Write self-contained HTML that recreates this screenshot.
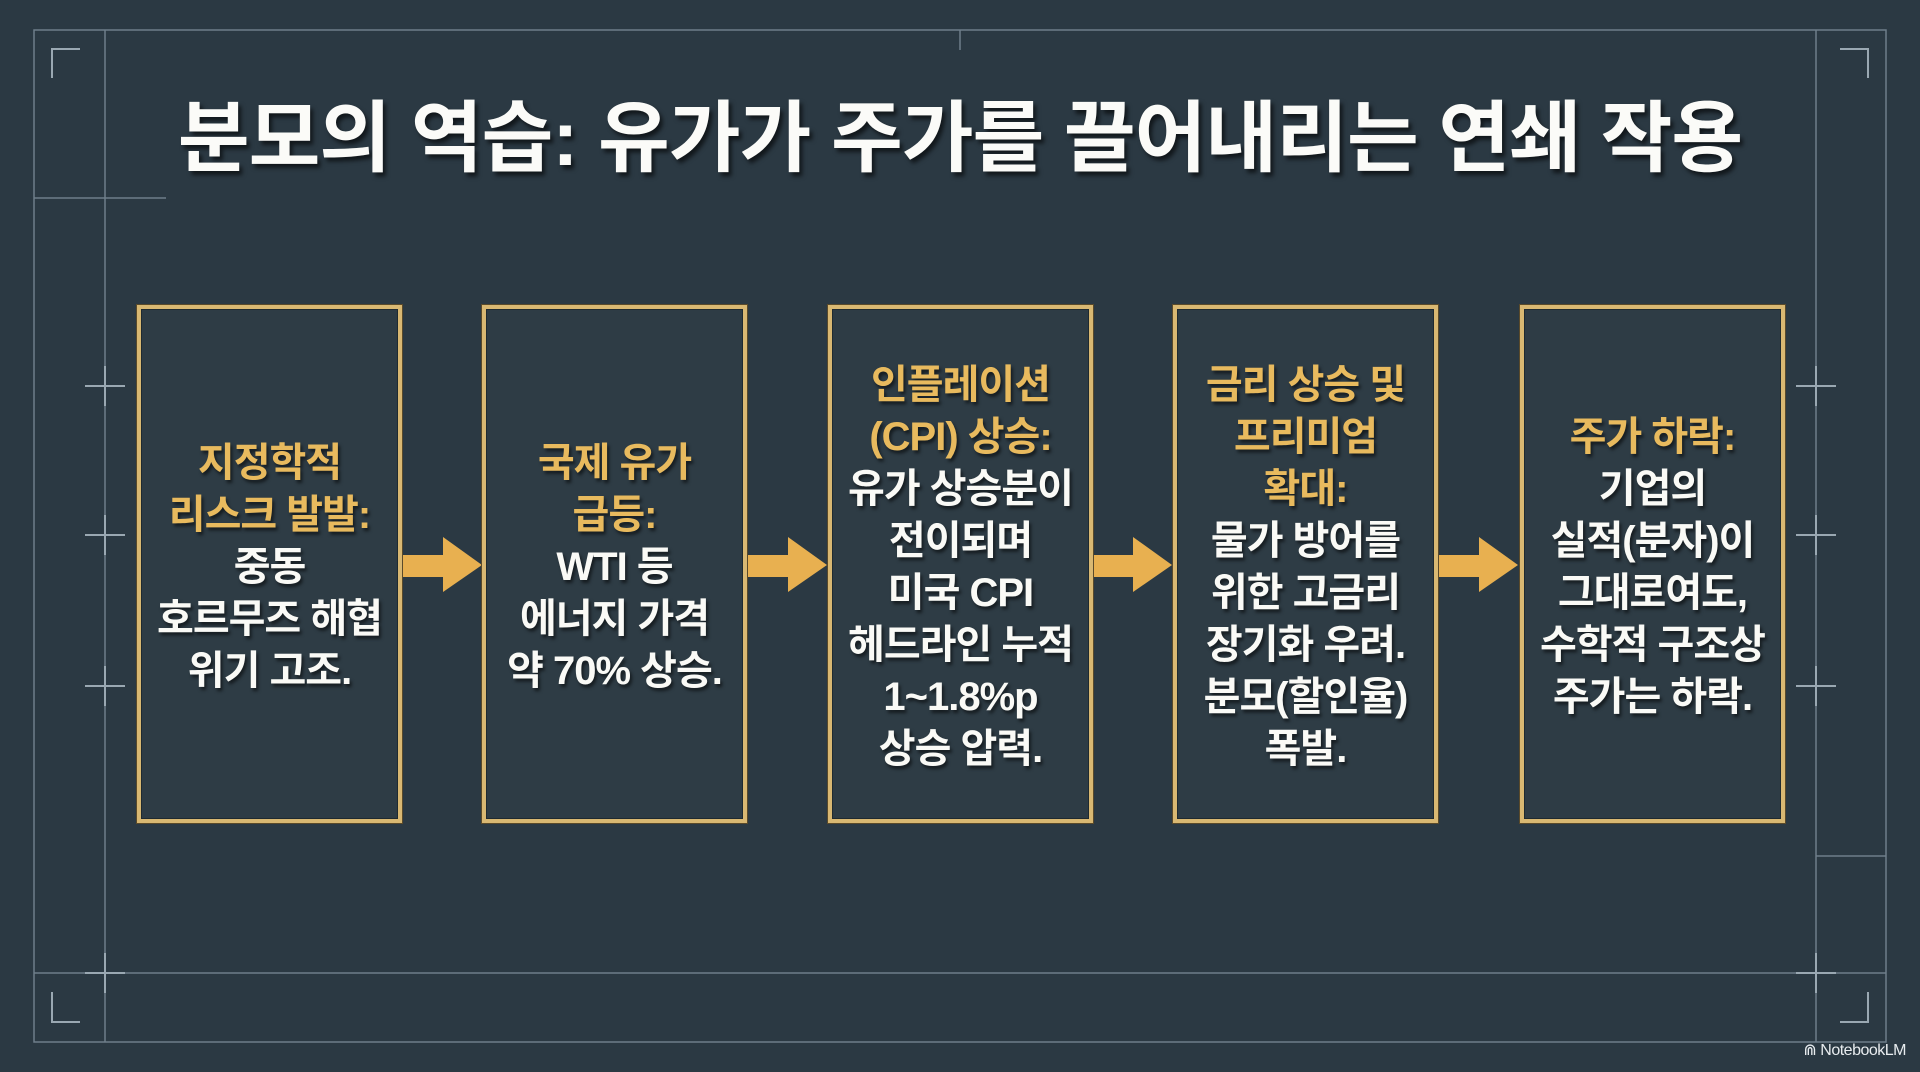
<!DOCTYPE html>
<html><head><meta charset="utf-8"><style>
html,body{margin:0;padding:0;}
body{width:1920px;height:1072px;background:#2b3943;position:relative;overflow:hidden;font-family:"Liberation Sans","Noto Sans CJK KR",sans-serif;}
svg{position:absolute;left:0;top:0;}
.title{position:absolute;left:0;width:1920px;top:88px;text-align:center;color:#fbfbf8;font-weight:700;font-size:78px;line-height:100px;letter-spacing:-1px;text-shadow:3px 4px 4px rgba(0,0,0,.6);white-space:nowrap;}
.box{position:absolute;top:305px;width:257px;height:510px;border:4px solid #d9b872;background:#2e3c45;box-shadow:0 0 0 1px #5a4a2a,inset 0 0 0 1px #1f2a30;display:flex;align-items:center;justify-content:center;text-align:center;}
.box div{font-weight:700;font-size:40px;line-height:52px;color:#fafaf6;letter-spacing:-1px;text-shadow:2px 3px 3px rgba(0,0,0,.55);margin-top:6px;}
.g{color:#e8ba5e;}
.wm{position:absolute;right:14px;top:1040px;color:#e8ecef;font-size:16px;letter-spacing:-0.5px;}
</style></head><body>
<svg width="1920" height="1072">
<g stroke="#6e7e8a" stroke-width="1.5" fill="none">
<rect x="34" y="30" width="1852" height="1012"/>
<line x1="105" y1="30" x2="105" y2="1042"/>
<line x1="1816" y1="30" x2="1816" y2="1042"/>
<line x1="34" y1="973" x2="1886" y2="973"/>
<line x1="34" y1="198" x2="166" y2="198"/>
<line x1="1816" y1="856" x2="1886" y2="856"/>
<line x1="960" y1="30" x2="960" y2="50"/>
</g>
<g stroke="#9aa8b2" stroke-width="2" fill="none">
<path d="M52 78 V49 H80"/>
<path d="M1868 78 V49 H1840"/>
<path d="M52 992 V1022 H80"/>
<path d="M1868 992 V1022 H1840"/>
<path d="M85 386 H125 M105 366 V406"/>
<path d="M85 535 H125 M105 515 V555"/>
<path d="M85 686 H125 M105 666 V706"/>
<path d="M85 973 H125 M105 953 V993"/>
<path d="M1796 386 H1836 M1816 366 V406"/>
<path d="M1796 535 H1836 M1816 515 V555"/>
<path d="M1796 686 H1836 M1816 666 V706"/>
<path d="M1796 973 H1836 M1816 953 V993"/>
</g>
<g fill="#e8b050">
<path d="M402 555 H443 V537 L482 565 L443 592 V577 H402 Z"/>
<path d="M747 555 H788 V537 L827 565 L788 592 V577 H747 Z"/>
<path d="M1092 555 H1133 V537 L1172 565 L1133 592 V577 H1092 Z"/>
<path d="M1438 555 H1479 V537 L1518 565 L1479 592 V577 H1438 Z"/>
</g>
</svg>
<div class="title">분모의 역습: 유가가 주가를 끌어내리는 연쇄 작용</div>
<div class="box" style="left:137px"><div><span class="g">지정학적<br>리스크 발발:</span><br>중동<br>호르무즈 해협<br>위기 고조.</div></div>
<div class="box" style="left:482px"><div><span class="g">국제 유가<br>급등:</span><br>WTI 등<br>에너지 가격<br>약 70% 상승.</div></div>
<div class="box" style="left:828px"><div><span class="g">인플레이션<br>(CPI) 상승:</span><br>유가 상승분이<br>전이되며<br>미국 CPI<br>헤드라인 누적<br>1~1.8%p<br>상승 압력.</div></div>
<div class="box" style="left:1173px"><div><span class="g">금리 상승 및<br>프리미엄<br>확대:</span><br>물가 방어를<br>위한 고금리<br>장기화 우려.<br>분모(할인율)<br>폭발.</div></div>
<div class="box" style="left:1520px"><div><span class="g">주가 하락:</span><br>기업의<br>실적(분자)이<br>그대로여도,<br>수학적 구조상<br>주가는 하락.</div></div>
<div class="wm">⋒ NotebookLM</div>
</body></html>
